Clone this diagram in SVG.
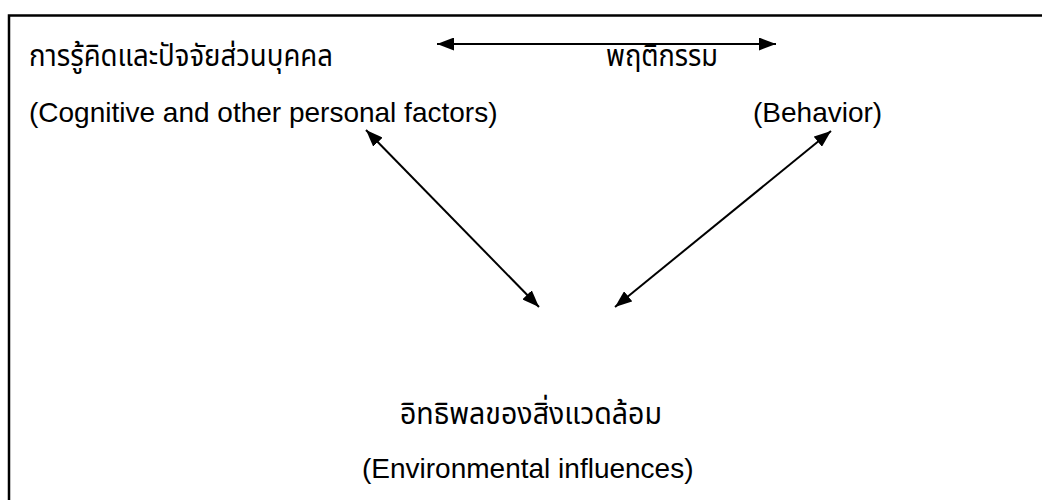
<svg xmlns="http://www.w3.org/2000/svg" width="1042" height="500" viewBox="0 0 1042 500">
<style>
.t{font-family:"Liberation Sans",Arial,sans-serif;font-size:28px;fill:#000}
.th{font-family:"Noto Sans Thai","Noto Sans","DejaVu Sans",sans-serif;font-size:31px;fill:#000}
.c{stroke:#000;stroke-width:2;fill:none;marker-start:url(#ah);marker-end:url(#ah)}
</style>
<defs>
<marker id="ah" viewBox="0 0 10 10" refX="10" refY="5" markerWidth="17" markerHeight="13" markerUnits="userSpaceOnUse" orient="auto-start-reverse" preserveAspectRatio="none">
<path d="M0,0 L10,5 L0,10 z" fill="#000"/>
</marker>
</defs>
<rect width="1042" height="500" fill="#fff"/>
<path d="M9,500 V15.5 H1042" stroke="#000" stroke-width="2.5" fill="none"/>
<g id="connectors">
<line class="c" x1="437" y1="44" x2="776" y2="44"/>
<line class="c" x1="366" y1="130" x2="539" y2="307"/>
<line class="c" x1="831" y1="131" x2="615" y2="307"/>
</g>
<g id="personal">
<text class="th" x="29" y="66" textLength="304" lengthAdjust="spacingAndGlyphs">การรู้คิดและปัจจัยส่วนบุคคล</text>
<text class="t" x="29" y="122">(Cognitive and other personal factors)</text>
</g>
<g id="behavior">
<text class="th" x="606" y="66" textLength="112" lengthAdjust="spacingAndGlyphs">พฤติกรรม</text>
<text class="t" x="753" y="122">(Behavior)</text>
</g>
<g id="environment">
<text class="th" x="400" y="424" textLength="262" lengthAdjust="spacingAndGlyphs">อิทธิพลของสิ่งแวดล้อม</text>
<text class="t" x="362" y="478">(Environmental influences)</text>
</g>
</svg>
